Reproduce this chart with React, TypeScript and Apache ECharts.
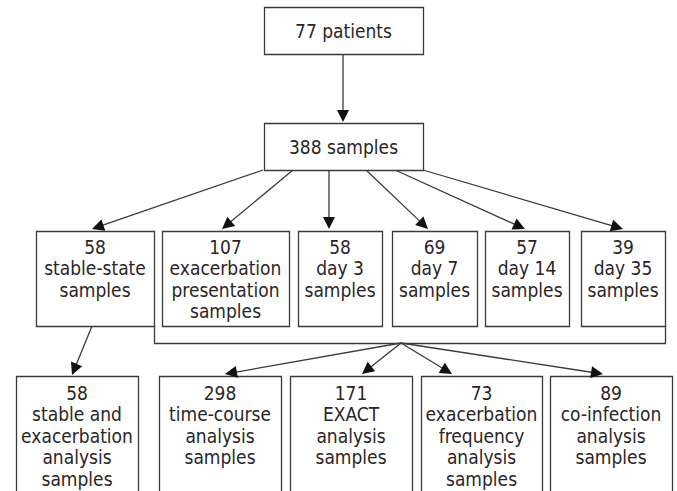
import React, { useEffect, useRef } from "react";
import * as echarts from "echarts";

// ---- data ----
const rootLabel = "77 patients";
const poolLabel = "388 samples";
const timepointCounts = [58, 107, 58, 69, 57, 39];
const timepointLabels = [
  "stable-state\nsamples",
  "exacerbation\npresentation\nsamples",
  "day 3\nsamples",
  "day 7\nsamples",
  "day 14\nsamples",
  "day 35\nsamples",
];
const analysisCounts = [58, 298, 171, 73, 89];
const analysisLabels = [
  "stable and\nexacerbation\nanalysis\nsamples",
  "time-course\nanalysis\nsamples",
  "EXACT\nanalysis\nsamples",
  "exacerbation\nfrequency\nanalysis\nsamples",
  "co-infection\nanalysis\nsamples",
];

// ---- layout (positions, not data) ----
const rootBox = [264, 7, 423, 54];
const poolBox = [264, 123, 423, 170];
const timepointX = [[36, 154], [162, 289], [298, 382], [392, 477], [485, 569], [581, 665]];
const timepointY = [231, 326];
const analysisX = [[16, 138], [159, 281], [290, 412], [421, 542], [550, 672]];
const analysisY = [376, 520];
const poolStarts = [263, 293, 329, 366, 395, 423];
const timepointTips = [[92, 229], [222, 229], [329, 229], [428, 229], [525, 229], [623, 229]];
const bracketY = 343;
const hubX = 401;
const analysisTips = [[225, 374], [362, 374], [452, 374], [603, 374]];

const FONT = '19px "DejaVu Sans Condensed", "DejaVu Sans", sans-serif';
const INK = "#2a2627";
const LINE = "#3a3a3a";

function boxEl(x1: number, y1: number, x2: number, y2: number) {
  return {
    type: "rect",
    shape: { x: x1 + 0.5, y: y1 + 0.5, width: x2 - x1, height: y2 - y1 },
    style: { fill: "#fff", stroke: LINE, lineWidth: 1.3 },
    z: 2,
  };
}

function textEl(text: string, cx: number, y: number, vAlign = "top") {
  return {
    type: "text",
    x: cx,
    y,
    z: 3,
    style: {
      text,
      font: FONT,
      fill: INK,
      textAlign: "center",
      textVerticalAlign: vAlign,
      lineHeight: 21.5,
    },
  };
}

function arrowEls(x1: number, y1: number, x2: number, y2: number) {
  const dx = x2 - x1, dy = y2 - y1;
  const len = Math.sqrt(dx * dx + dy * dy);
  const ux = dx / len, uy = dy / len;
  const L = 12, W = 6;
  const bx = x2 - ux * L, by = y2 - uy * L;
  return [
    {
      type: "line",
      shape: { x1, y1, x2: bx + ux * 2, y2: by + uy * 2 },
      style: { stroke: LINE, lineWidth: 1.3 },
      z: 1,
    },
    {
      type: "polygon",
      shape: {
        points: [
          [x2, y2],
          [bx - uy * W, by + ux * W],
          [bx + uy * W, by - ux * W],
        ],
      },
      style: { fill: "#111" },
      z: 4,
    },
  ];
}

export default function App() {
  const ref = useRef<HTMLDivElement>(null);
  useEffect(() => {
    document.body.style.margin = "0";
    const chart = echarts.init(ref.current!, null, { renderer: "svg" });
    const els: any[] = [];
    // root and pool
    els.push(boxEl(rootBox[0], rootBox[1], rootBox[2], rootBox[3]));
    els.push(textEl(rootLabel, (rootBox[0] + rootBox[2]) / 2, (rootBox[1] + rootBox[3]) / 2, "middle"));
    els.push(boxEl(poolBox[0], poolBox[1], poolBox[2], poolBox[3]));
    els.push(textEl(poolLabel, (poolBox[0] + poolBox[2]) / 2, (poolBox[1] + poolBox[3]) / 2, "middle"));
    els.push(...arrowEls(343, rootBox[3], 343, poolBox[1] - 1));
    // timepoints
    timepointCounts.forEach((c, i) => {
      const [x1, x2] = timepointX[i];
      els.push(boxEl(x1, timepointY[0], x2, timepointY[1]));
      els.push(textEl(c + "\n" + timepointLabels[i], (x1 + x2) / 2, timepointY[0] + 5));
      els.push(...arrowEls(poolStarts[i], poolBox[3], timepointTips[i][0], timepointTips[i][1]));
    });
    // analyses
    analysisCounts.forEach((c, i) => {
      const [x1, x2] = analysisX[i];
      els.push(boxEl(x1, analysisY[0], x2, analysisY[1]));
      els.push(textEl(c + "\n" + analysisLabels[i], (x1 + x2) / 2, analysisY[0] + 6));
    });
    // stable-state -> stable analysis
    els.push(...arrowEls(92, timepointY[1], 72, 375));
    // bracket
    els.push({
      type: "polyline",
      shape: {
        points: [
          [timepointX[0][1] + 0.5, timepointY[1]],
          [timepointX[0][1] + 0.5, bracketY + 0.5],
          [timepointX[5][1] + 0.5, bracketY + 0.5],
          [timepointX[5][1] + 0.5, timepointY[1]],
        ],
      },
      style: { stroke: LINE, lineWidth: 1.3, fill: null },
      z: 1,
    });
    analysisTips.forEach(([tx, ty]) => {
      els.push(...arrowEls(hubX, bracketY, tx, ty));
    });
    chart.setOption({ animation: false, graphic: { elements: els } });
    return () => chart.dispose();
  }, []);
  return <div ref={ref} style={{ width: 677, height: 491, background: "#fff" }} />;
}
